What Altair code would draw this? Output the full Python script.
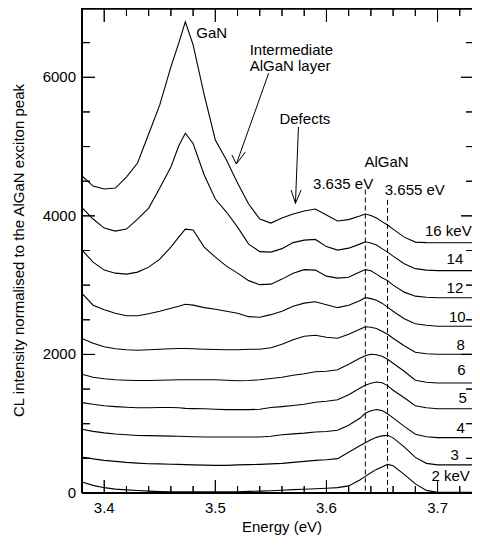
import altair as alt
import pandas as pd

# Photon energy grid (eV)
energy = [3.38, 3.39, 3.40, 3.41, 3.42, 3.43, 3.44, 3.45, 3.46, 3.467, 3.473, 3.48,
          3.49, 3.50, 3.51, 3.52, 3.53, 3.54, 3.55, 3.56, 3.57, 3.58, 3.59, 3.60,
          3.61, 3.62, 3.63, 3.635, 3.64, 3.645, 3.65, 3.655, 3.66, 3.67, 3.68, 3.69,
          3.70, 3.71, 3.72, 3.73, 3.74]

# Offset CL spectra, one per beam energy
cl_16 = [4575, 4430, 4387, 4401, 4560, 4763, 5182, 5601, 6150, 6490, 6800, 6468, 5745, 5095,
         4806, 4474, 4170, 3954, 3896, 3968, 4026, 4069, 4098, 4011, 3925, 3946, 3997, 4026,
         4004, 3968, 3917, 3867, 3809, 3693, 3621, 3614, 3611, 3611, 3611, 3611, 3611]
cl_14 = [4120, 3954, 3823, 3780, 3809, 3954, 4112, 4401, 4705, 5008, 5192, 5044, 4589, 4243,
         4055, 3838, 3592, 3484, 3477, 3527, 3614, 3650, 3660, 3556, 3506, 3534, 3592, 3626,
         3607, 3578, 3527, 3477, 3419, 3310, 3238, 3217, 3209, 3209, 3209, 3209, 3209]
cl_12 = [3506, 3332, 3217, 3173, 3159, 3188, 3260, 3376, 3549, 3693, 3809, 3795, 3549, 3404,
         3274, 3173, 3065, 3007, 3014, 3087, 3173, 3224, 3217, 3130, 3101, 3115, 3188, 3224,
         3209, 3159, 3108, 3065, 3000, 2899, 2841, 2826, 2819, 2819, 2819, 2819, 2819]
cl_10 = [2880, 2711, 2646, 2595, 2559, 2559, 2588, 2624, 2667, 2696, 2725, 2711, 2675, 2653,
         2624, 2595, 2545, 2537, 2574, 2624, 2696, 2740, 2761, 2718, 2675, 2711, 2776, 2819,
         2805, 2783, 2740, 2682, 2624, 2516, 2443, 2422, 2407, 2407, 2407, 2407, 2407]
cl_8 = [2230, 2162, 2111, 2082, 2068, 2061, 2068, 2075, 2082, 2085, 2085, 2082, 2075, 2071,
        2068, 2068, 2075, 2075, 2097, 2147, 2212, 2263, 2277, 2248, 2234, 2292, 2364, 2400,
        2393, 2374, 2335, 2292, 2234, 2126, 2032, 2010, 2003, 2003, 2003, 2003, 2003]
cl_6 = [1714, 1670, 1649, 1634, 1627, 1623, 1623, 1627, 1630, 1634, 1634, 1634, 1634, 1634,
        1627, 1620, 1623, 1634, 1652, 1670, 1699, 1721, 1750, 1757, 1779, 1858, 1945, 1981,
        2003, 1996, 1974, 1931, 1873, 1757, 1627, 1598, 1588, 1588, 1588, 1588, 1588]
cl_5 = [1305, 1280, 1259, 1247, 1237, 1230, 1230, 1233, 1233, 1230, 1222, 1218, 1215, 1208,
        1204, 1204, 1204, 1208, 1233, 1247, 1262, 1280, 1309, 1324, 1345, 1418, 1511, 1555,
        1584, 1602, 1591, 1550, 1483, 1374, 1259, 1230, 1215, 1215, 1215, 1215, 1215]
cl_4 = [919, 890, 868, 851, 840, 829, 828, 825, 821, 818, 815, 811, 808, 808,
        808, 808, 808, 808, 818, 840, 854, 864, 880, 887, 905, 977, 1078, 1150,
        1186, 1204, 1189, 1143, 1085, 962, 847, 811, 799, 799, 799, 799, 799]
cl_3 = [519, 493, 471, 457, 442, 431, 423, 420, 416, 413, 410, 406, 402, 399,
        399, 406, 409, 413, 420, 428, 442, 457, 471, 481, 496, 587, 681, 724,
        767, 803, 825, 832, 796, 666, 514, 428, 406, 406, 406, 406, 406]
cl_2 = [158, 110, 77, 56, 45, 35, 27, 20, 16, 16, 16, 16, 16, 16,
        16, 19, 23, 27, 33, 40, 48, 55, 62, 69, 77, 103, 189, 240,
        291, 341, 377, 413, 392, 269, 131, 38, 9, 9, 9, 9, 9]

spectra = {"16": cl_16, "14": cl_14, "12": cl_12, "10": cl_10, "8": cl_8,
           "6": cl_6, "5": cl_5, "4": cl_4, "3": cl_3, "2": cl_2}

# Beam-energy labels
kev_text = ["16 keV", "14", "12", "10", "8", "6", "5", "4", "3", "2 keV"]
kev_e = [3.6887, 3.7081, 3.7081, 3.7102, 3.7171, 3.7177, 3.7189, 3.7171, 3.7117, 3.6945]
kev_i = [3704, 3303, 2884, 2470, 2061, 1699, 1299, 866, 471, 172]

# Annotation texts
note_text = ["GaN", "Intermediate", "AlGaN layer", "Defects", "AlGaN", "3.635 eV", "3.655 eV"]
note_e = [3.4829, 3.5309, 3.5309, 3.5577, 3.6342, 3.588, 3.6525]
note_i = [6565, 6323, 6096, 5326, 4709, 4387, 4308]

# Arrow segments (shafts and heads)
arrow_e1 = [3.548, 3.5149, 3.527, 3.5748, 3.5682, 3.5772]
arrow_i1 = [6059, 4878, 4922, 5283, 4373, 4373]
arrow_e2 = [3.5189, 3.5189, 3.5189, 3.5721, 3.5721, 3.5721]
arrow_i2 = [4748, 4748, 4748, 4180, 4180, 4180]

# AlGaN reference energies (dashed lines)
ref_e = [3.635, 3.655]
ref_top = [4380, 4230]

# Axis ticks and tick labels
x_major = [3.4, 3.5, 3.6, 3.7]
x_labels = ["3.4", "3.5", "3.6", "3.7"]
x_minor = [3.42, 3.44, 3.46, 3.48, 3.52, 3.54, 3.56, 3.58, 3.62, 3.64, 3.66, 3.68, 3.72]
y_major = [0, 2000, 4000, 6000]
y_labels = ["0", "2000", "4000", "6000"]
y_minor = [500, 1000, 1500, 2500, 3000, 3500, 4500, 5000, 5500, 6500]

x_title = "Energy (eV)"
y_title = "CL intensity normalised to the AlGaN exciton peak"

W, H = 390, 485
FONT = "Liberation Sans"
FS = 15
X0, X1 = 3.38, 3.38 + W / 1111.1
Y0, Y1 = 0, 7000
kx = W / (X1 - X0)   # px per eV
ky = H / (Y1 - Y0)   # px per count

rows = []
for k, vals in spectra.items():
    for e, v in zip(energy, vals):
        rows.append({"E": e, "I": v, "keV": k})
df = pd.DataFrame(rows)
kev_df = pd.DataFrame({"E": kev_e, "I": kev_i, "t": kev_text})
note_df = pd.DataFrame({"E": note_e, "I": note_i, "t": note_text})
arrow_df = pd.DataFrame({"E": arrow_e1, "I": arrow_i1, "E2": arrow_e2, "I2": arrow_i2})
ref_df = pd.DataFrame({"E": ref_e, "I": ref_top, "I0": [0, 0]})

# inward tick marks built from the tick value lists, as thin rectangles
hw_x = 0.5 / kx
hw_y = 0.5 / ky
rect_rows = []
for vals, ln in ((x_major, 13), (x_minor, 7)):
    for v in vals:
        rect_rows.append({"E": v - hw_x, "E2": v + hw_x, "I": Y0, "I2": Y0 + ln / ky})
        rect_rows.append({"E": v - hw_x, "E2": v + hw_x, "I": Y1, "I2": Y1 - (ln + 1) / ky})
for vals, ln, lr in ((y_major[1:], 13, 11), (y_minor, 8, 6)):
    for v in vals:
        rect_rows.append({"E": X0, "E2": X0 + ln / kx, "I": v - hw_y, "I2": v + hw_y})
        rect_rows.append({"E": X1 - lr / kx, "E2": X1, "I": v - hw_y, "I2": v + hw_y})
rect_rows.append({"E": X0, "E2": X1, "I": Y1 - 1.8 / ky, "I2": Y1})   # top frame
rect_df = pd.DataFrame(rect_rows)

# the same ticks as line-shaped point symbols (centre + length)
pv_rows, ph_rows = [], []
for vals, ln in ((x_major, 13), (x_minor, 7)):
    for v in vals:
        pv_rows.append({"E": v, "I": Y0 + ln / 2 / ky, "s": ln * ln})
        pv_rows.append({"E": v, "I": Y1 - (ln + 1) / 2 / ky, "s": (ln + 1) ** 2})
for vals, ln, lr in ((y_major[1:], 13, 11), (y_minor, 8, 6)):
    for v in vals:
        ph_rows.append({"E": X0 + ln / 2 / kx, "I": v, "s": ln * ln})
        ph_rows.append({"E": X1 - lr / 2 / kx, "I": v, "s": lr * lr})
pv_df = pd.DataFrame(pv_rows)
ph_df = pd.DataFrame(ph_rows)

xs = alt.Scale(domain=[X0, X1], nice=False, zero=False)
ys = alt.Scale(domain=[Y0, Y1], nice=False, zero=False)


def X(field="E"):
    return alt.X(f"{field}:Q", scale=xs, axis=None)


def Y(field="I"):
    return alt.Y(f"{field}:Q", scale=ys, axis=None)


curves = alt.Chart(df).mark_line(color="black", strokeWidth=1.1).encode(
    x=X(), y=Y(), detail="keV:N",
)

one = pd.DataFrame({"v": [0]})
frame = [
    alt.Chart(one).mark_rule(color="black", strokeWidth=2).encode(
        x=alt.value(0), x2=alt.value(W), y=alt.value(H)),
    alt.Chart(one).mark_rule(color="black", strokeWidth=2).encode(
        x=alt.value(0), y=alt.value(0), y2=alt.value(H)),
]

xlab = alt.Chart(pd.DataFrame({"v": x_major, "t": x_labels})).mark_text(
    align="center", baseline="top", font=FONT, fontSize=FS, color="black").encode(
    x=X("v"), y=alt.value(H + 8), text="t:N")
ylab = alt.Chart(pd.DataFrame({"v": y_major, "t": y_labels})).mark_text(
    align="right", baseline="middle", font=FONT, fontSize=FS, color="black").encode(
    y=Y("v"), x=alt.value(-6), text="t:N")
xtit = alt.Chart(pd.DataFrame({"t": [x_title]})).mark_text(
    align="center", baseline="alphabetic", font=FONT, fontSize=FS, color="black").encode(
    x=alt.value(200), y=alt.value(H + 39), text="t:N")
ytit = alt.Chart(pd.DataFrame({"t": [y_title]})).mark_text(
    align="center", baseline="alphabetic", angle=270, font=FONT, fontSize=FS,
    color="black").encode(
    x=alt.value(-58.5), y=alt.value(H / 2), text="t:N")

arrows = alt.Chart(arrow_df).mark_rule(color="black", strokeWidth=1).encode(
    x=X(), y=Y(), x2="E2:Q", y2="I2:Q",
)

refs = alt.Chart(ref_df).mark_rule(color="black", strokeWidth=1, strokeDash=[5, 3]).encode(
    x=X(), y=Y(), y2="I0:Q",
)

notes = alt.Chart(note_df).mark_text(align="left", baseline="alphabetic", fontSize=FS,
                                     font=FONT, color="black").encode(
    x=X(), y=Y(), text="t:N",
)

kev = alt.Chart(kev_df).mark_text(align="left", baseline="alphabetic", fontSize=FS,
                                  font=FONT, color="black").encode(
    x=X(), y=Y(), text="t:N",
)

tick_rects = alt.Chart(rect_df).mark_rect(color="black", opacity=1).encode(
    x=X(), x2="E2:Q", y=Y(), y2="I2:Q",
)

tick_pv = alt.Chart(pv_df).mark_point(shape="M0,-1L0,1", filled=False, color="black",
                                      opacity=1, strokeWidth=1).encode(
    x=X(), y=Y(), size=alt.Size("s:Q", scale=None, legend=None),
)
tick_ph = alt.Chart(ph_df).mark_point(shape="M-1,0L1,0", filled=False, color="black",
                                      opacity=1, strokeWidth=1).encode(
    x=X(), y=Y(), size=alt.Size("s:Q", scale=None, legend=None),
)

chart = alt.layer(curves, *frame, xlab, ylab, xtit, ytit,
                  refs, arrows, notes, kev, tick_rects, tick_pv, tick_ph).properties(
    width=W, height=H,
    autosize=alt.AutoSizeParams(type="none"),
    padding={"left": 74, "top": 0, "right": 0, "bottom": 43},
).configure_view(stroke=None)

chart.save("out.html", embed_options={"renderer": "svg", "actions": False})
